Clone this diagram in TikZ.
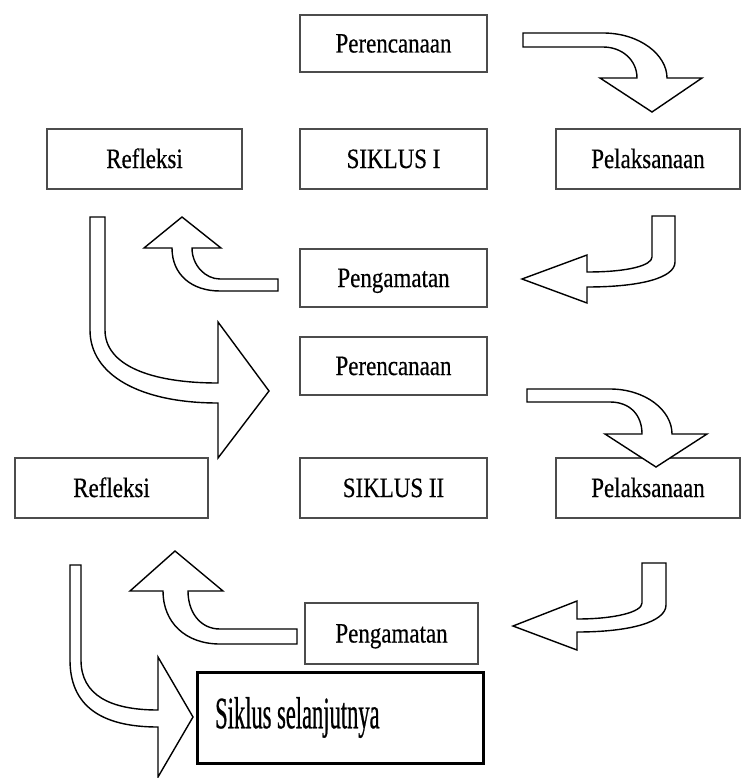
\documentclass[tikz,border=0pt]{standalone}
\usepackage{fontspec}
\newfontfamily\boxfont[FakeStretch=0.82,FakeBold=0.4]{Liberation Serif}
\newfontfamily\bigfont[FakeStretch=0.5,FakeBold=0.5]{Liberation Serif}
\tikzset{
  stagebox/.style={draw=black!70, line width=1.4pt, fill=white, inner sep=0pt,
    font=\boxfont\fontsize{28}{32}\selectfont, text height=21pt, text depth=3pt},
  nextbox/.style={draw=black, line width=3pt, inner sep=0pt},
  nexttxt/.style={inner sep=0pt, anchor=west, font=\bigfont\fontsize{45}{50}\selectfont},
  blockarrow/.style={draw=black, line width=1.4pt, fill=white, line join=miter}
}
\begin{document}
\begin{tikzpicture}[x=1pt,y=-1pt]
\useasboundingbox (0,0) rectangle (742,778);
% boxes
\node[stagebox, minimum width=187pt, minimum height=57pt] (per1) at (393.5,43.5) {Perencanaan};
\node[stagebox, minimum width=195pt, minimum height=60pt] (ref1) at (144.5,159) {Refleksi};
\node[stagebox, minimum width=187pt, minimum height=60pt] (sik1) at (393.5,159) {SIKLUS I};
\node[stagebox, minimum width=184pt, minimum height=60pt] (pel1) at (648,159) {Pelaksanaan};
\node[stagebox, minimum width=187pt, minimum height=58pt] (pen1) at (393.5,278) {Pengamatan};
\node[stagebox, minimum width=187pt, minimum height=58pt] (per2) at (393.5,366) {Perencanaan};
\node[stagebox, minimum width=193pt, minimum height=60pt] (ref2) at (111.5,488) {Refleksi};
\node[stagebox, minimum width=187pt, minimum height=60pt] (sik2) at (393.5,488) {SIKLUS II};
\node[stagebox, minimum width=184pt, minimum height=60pt] (pel2) at (648,488) {Pelaksanaan};
\node[stagebox, minimum width=173pt, minimum height=61pt] (pen2) at (391.5,633.5) {Pengamatan};
\node[nextbox, minimum width=286pt, minimum height=91pt] (next) at (340,717.5) {};
\node[nexttxt] (nexttext) at (215,717.5) {Siklus selanjutnya};
% block arrows
\draw[blockarrow] (523,33) -- (603,33) .. controls (640,33) and (667,55) .. (667,78)
  -- (702,78) -- (652,112) -- (600,78) -- (637,78)
  .. controls (637,60) and (622,47) .. (603,47) -- (523,47) -- cycle;
\draw[blockarrow] (652,216) -- (675,216) -- (675,262)
  .. controls (675,278) and (640,287) .. (587,287) -- (587,303) -- (522,279) -- (587,255) -- (587,272)
  .. controls (630,272) and (652,265) .. (652,257) -- cycle;
\draw[blockarrow] (278,279) -- (278,291) -- (220,291)
  .. controls (192,291) and (172,275) .. (172,248) -- (144,248) -- (182,217) -- (221,248) -- (192,248)
  .. controls (192,265) and (205,279) .. (220,279) -- cycle;
\draw[blockarrow] (90,217) -- (105,217) -- (105,330)
  .. controls (105,365) and (150,383) .. (218,383) -- (218,322) -- (269,391) -- (218,458) -- (218,403)
  .. controls (140,403) and (90,375) .. (90,330) -- cycle;
\draw[blockarrow] (527,389) -- (610,389) .. controls (645,389) and (672,410) .. (672,434)
  -- (707,434) -- (656,467) -- (605,434) -- (642,434)
  .. controls (642,415) and (630,402) .. (610,402) -- (527,402) -- cycle;
\draw[blockarrow] (642,563) -- (666,563) -- (666,605)
  .. controls (666,622) and (630,632) .. (577,632) -- (577,650) -- (513,626) -- (577,601) -- (577,619)
  .. controls (615,619) and (642,612) .. (642,603) -- cycle;
\draw[blockarrow] (297,629) -- (297,644) -- (220,644)
  .. controls (185,644) and (163,622) .. (163,591) -- (130,591) -- (175,551) -- (223,591) -- (188,591)
  .. controls (188,612) and (200,629) .. (220,629) -- cycle;
\draw[blockarrow] (70,565) -- (81,565) -- (81,660)
  .. controls (81,695) and (110,710) .. (158,710) -- (158,657) -- (193,717) -- (158,777) -- (158,727)
  .. controls (100,727) and (70,705) .. (70,660) -- cycle;
\end{tikzpicture}
\end{document}
